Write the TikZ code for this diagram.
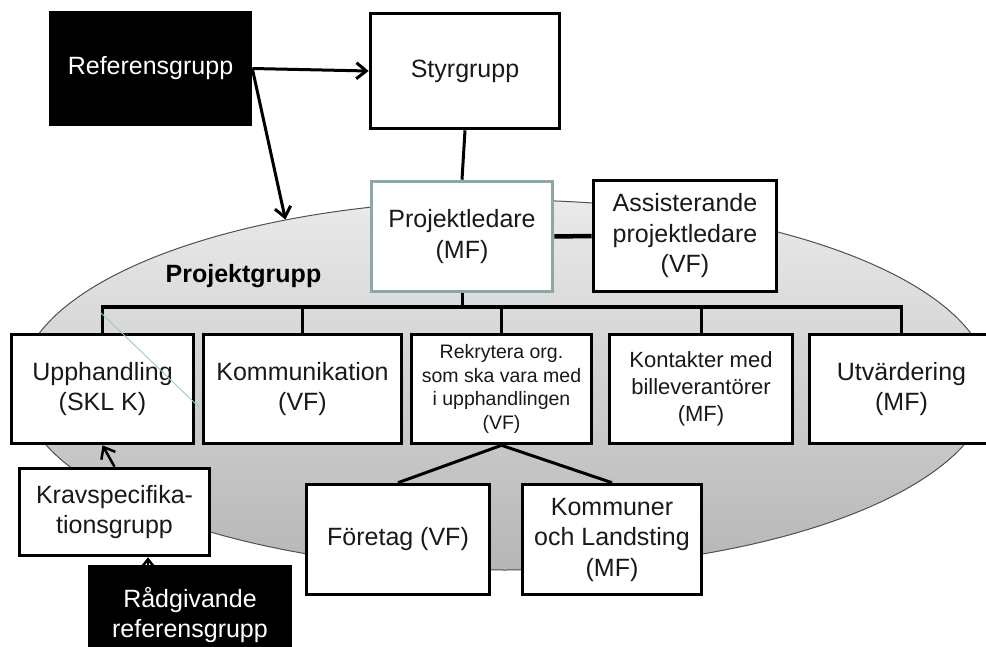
\documentclass[tikz,border=0pt]{standalone}
\usepackage{fontspec}
\setmainfont{Liberation Sans}
\usetikzlibrary{arrows.meta,shapes.geometric}
\definecolor{plc}{RGB}{143,166,166}
\definecolor{ringc}{RGB}{80,80,80}
\definecolor{topg}{RGB}{234,234,234}
\definecolor{botg}{RGB}{182,182,182}
\definecolor{strayc}{RGB}{150,205,205}
\begin{document}
\begin{tikzpicture}[x=1pt,y=-1pt,
  box/.style={draw=black, line width=3.6pt, fill=white, align=center, inner sep=0pt,
              text=black!90, font=\fontsize{25}{30.5}\selectfont},
  darkbox/.style={box, fill=black, text=white},
  conn/.style={line width=3pt},
  arr/.style={conn, -{Straight Barb[length=10pt,width=16pt]}},
  ring/.style={ellipse, draw=ringc, line width=1pt, top color=topg, bottom color=botg, inner sep=0pt},
]
\clip (0,0) rectangle (986,647);

% project group ellipse
\node[ring, minimum width=970pt, minimum height=370pt] (pg) at (505,385) {};
\node[font=\bfseries\fontsize{25}{30}\selectfont, anchor=base, inner sep=0pt] (pgl) at (243.5,283) {Projektgrupp};

% boxes
\node[darkbox, minimum width=200pt, minimum height=112pt] (ref) at (150.5,68.5) {Referensgrupp};
\node[box, minimum width=189pt, minimum height=115pt] (sty) at (465,71) {Styrgrupp};
\node[box, draw=plc, minimum width=181pt, minimum height=110pt] (pl) at (462,236.5) {Projektledare\\(MF)};
\node[box, minimum width=183pt, minimum height=111pt] (ass) at (685,236) {Assisterande\\projektledare\\(VF)};

\node[box, minimum width=182pt, minimum height=109pt] (upp) at (102.5,389) {Upphandling\\(SKL K)};
\node[box, minimum width=198pt, minimum height=109pt] (kom) at (302.5,389) {Kommunikation\\(VF)};
\node[box, minimum width=180pt, minimum height=109pt, font=\fontsize{19.5}{23.8}\selectfont] (rek) at (501.5,389) {Rekrytera org.\\som ska vara med\\i upphandlingen\\(VF)};
\node[box, minimum width=183pt, minimum height=109pt, font=\fontsize{22}{27.3}\selectfont] (kon) at (701,389) {Kontakter med\\billeverantörer\\(MF)};
\node[box, minimum width=184pt, minimum height=109pt] (utv) at (901.5,389) {Utvärdering\\(MF)};

\node[box, minimum width=190pt, minimum height=87pt] (krav) at (114.5,512) {Kravspecifika-\\tionsgrupp};
\node[darkbox, minimum width=200pt, minimum height=96pt] (rad) at (190,615) {Rådgivande\\referensgrupp};

\node[box, minimum width=183pt, minimum height=110pt] (for) at (398,539.5) {Företag (VF)};
\node[box, minimum width=179pt, minimum height=110pt] (kml) at (612,539.5) {Kommuner\\och Landsting\\(MF)};

% connectors
\coordinate (bus) at (0,307);
\draw[arr] (ref.east) -- (sty.west);
\draw[arr] (ref.east) -- (pg.143);
\draw[conn] (sty.south) -- (pl.north);
\draw[line width=4.5pt] (pl.east) -- (ass.west);
\draw[conn] (pl.south) -- (pl.south |- bus);
\draw[conn, line width=3.5pt] (upp.north) |- (bus -| utv.north) -- (utv.north);
\foreach \n in {kom,rek,kon} \draw[conn] (\n.north) -- (\n.north |- bus);
\draw[conn] (rek.south) -- (for.north);
\draw[conn] (rek.south) -- (kml.north);
\draw[arr, line width=2.5pt] (krav.north) -- (upp.south);
\draw[arr, line width=2.5pt] ([xshift=-42pt]rad.north) -- ([xshift=-42pt]rad.north |- krav.south);

% stray thin line
\coordinate (t1) at (100,312);
\coordinate (t2) at (200,408);
\draw[strayc, line width=0.9pt] (t1) -- (t2);
\end{tikzpicture}
\end{document}
